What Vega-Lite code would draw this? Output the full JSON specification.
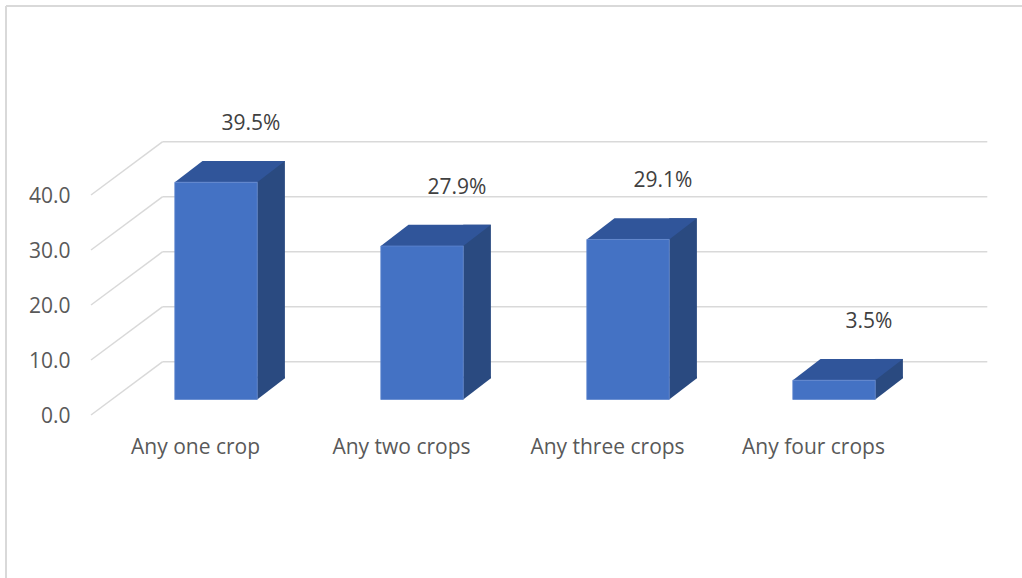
{
  "$schema": "https://vega.github.io/schema/vega-lite/v6.json",
  "width": 824,
  "height": 220,
  "autosize": "none",
  "padding": {"left": 113, "top": 179.5, "right": 85, "bottom": 178.5},
  "background": "white",
  "config": {"view": {"stroke": null}, "font": "Open Sans"},
  "datasets": {
    "bars": [
      {"cat": "Any one crop", "value": 39.5, "label": "39.5%"},
      {"cat": "Any two crops", "value": 27.9, "label": "27.9%"},
      {"cat": "Any three crops", "value": 29.1, "label": "29.1%"},
      {"cat": "Any four crops", "value": 3.5, "label": "3.5%"}
    ],
    "ticks": [{"t": 0}, {"t": 10}, {"t": 20}, {"t": 30}, {"t": 40}],
    "one": [{"k": 1}]
  },
  "resolve": {"scale": {"x": "independent"}, "axis": {"x": "independent"}},
  "layer": [
    {
      "data": {"name": "one"},
      "mark": {"type": "rule", "color": "#d9d9d9", "strokeWidth": 2, "xOffset": -107, "yOffset": -173.5, "y2Offset": 178.5},
      "encoding": {
        "x": {"datum": 0, "type": "quantitative", "scale": {"domain": [0, 4]}, "axis": null},
        "y": {"datum": 40, "type": "quantitative", "scale": {"domain": [0, 40]}, "title": null},
        "y2": {"datum": 0}
      }
    },
    {
      "data": {"name": "one"},
      "mark": {"type": "rule", "color": "#d9d9d9", "strokeWidth": 2, "xOffset": -107, "x2Offset": 85, "yOffset": -173.5},
      "encoding": {
        "x": {"datum": 0, "type": "quantitative", "scale": {"domain": [0, 4]}, "axis": null},
        "x2": {"datum": 4},
        "y": {"datum": 40, "type": "quantitative", "scale": {"domain": [0, 40]}, "title": null}
      }
    },
    {
      "data": {"name": "ticks"},
      "mark": {"type": "rule", "color": "#d9d9d9", "strokeWidth": 1.5, "xOffset": -22, "x2Offset": 49.7, "yOffset": 15.5, "y2Offset": -37.8},
      "encoding": {
        "x": {"datum": 0, "type": "quantitative", "scale": {"domain": [0, 4]}, "axis": null},
        "x2": {"datum": 0},
        "y": {"field": "t", "type": "quantitative", "scale": {"domain": [0, 40]}, "title": null},
        "y2": {"field": "t"}
      }
    },
    {
      "data": {"name": "ticks"},
      "mark": {"type": "rule", "color": "#d9d9d9", "strokeWidth": 1.5, "xOffset": 49.7, "x2Offset": 50.3, "yOffset": -37.8},
      "encoding": {
        "x": {"datum": 0, "type": "quantitative", "scale": {"domain": [0, 4]}, "axis": null},
        "x2": {"datum": 4},
        "y": {"field": "t", "type": "quantitative", "scale": {"domain": [0, 40]}, "title": null}
      }
    },
    {
      "data": {"name": "bars"},
      "encoding": {
        "x": {
          "field": "cat", "type": "nominal", "sort": null,
          "scale": {"paddingInner": 0.6, "paddingOuter": 0.3},
          "axis": {
            "title": null, "labelAngle": 0, "ticks": false, "tickSize": 0, "domain": false, "grid": false,
            "labelFont": "Open Sans", "labelFontSize": 21, "labelColor": "#595959",
            "labelOffset": -20.5, "labelPadding": 53.8, "labelBaseline": "alphabetic"
          }
        }
      },
      "layer": [
        {
          "mark": {"type": "bar", "width": 27.7, "xOffset": 55.05, "yOffset": -21.3, "y2Offset": -21.3, "color": "#2A4A80"},
          "encoding": {
            "y": {
              "field": "value", "type": "quantitative", "scale": {"domain": [0, 40]}, "title": null,
              "axis": {
                "values": [0, 10, 20, 30, 40], "format": ".1f", "grid": false, "domain": false, "ticks": false, "tickSize": 0,
                "labelFont": "Open Sans", "labelFontSize": 21, "labelColor": "#595959",
                "labelPadding": 43, "labelOffset": 17, "labelBaseline": "middle"
              }
            },
            "y2": {"datum": 0}
          }
        },
        {
          "mark": {"type": "point", "shape": "M 41.2 -23 L 41.2 0 L 68.9 -21.3 L 68.9 -23 Z", "size": 4, "filled": true, "fill": "#2A4A80", "opacity": 1, "strokeWidth": 0},
          "encoding": {"y": {"datum": 0, "type": "quantitative"}}
        },
        {
          "mark": {"type": "point", "shape": "M -41.2 0 L -13.5 -21.3 L 68.9 -21.3 L 41.2 0 Z", "size": 4, "filled": true, "fill": "#30559A", "opacity": 1, "strokeWidth": 0},
          "encoding": {"y": {"field": "value", "type": "quantitative"}}
        },
        {
          "mark": {"type": "bar", "color": "#4472C4", "stroke": "#5F87CE", "strokeWidth": 0.8},
          "encoding": {
            "y": {"field": "value", "type": "quantitative"},
            "y2": {"datum": 0}
          }
        },
        {
          "mark": {"type": "text", "font": "Open Sans", "fontSize": 21, "color": "#404040", "baseline": "alphabetic", "xOffset": 35, "dy": -52},
          "encoding": {
            "y": {"field": "value", "type": "quantitative"},
            "text": {"field": "label"}
          }
        }
      ]
    }
  ]
}
